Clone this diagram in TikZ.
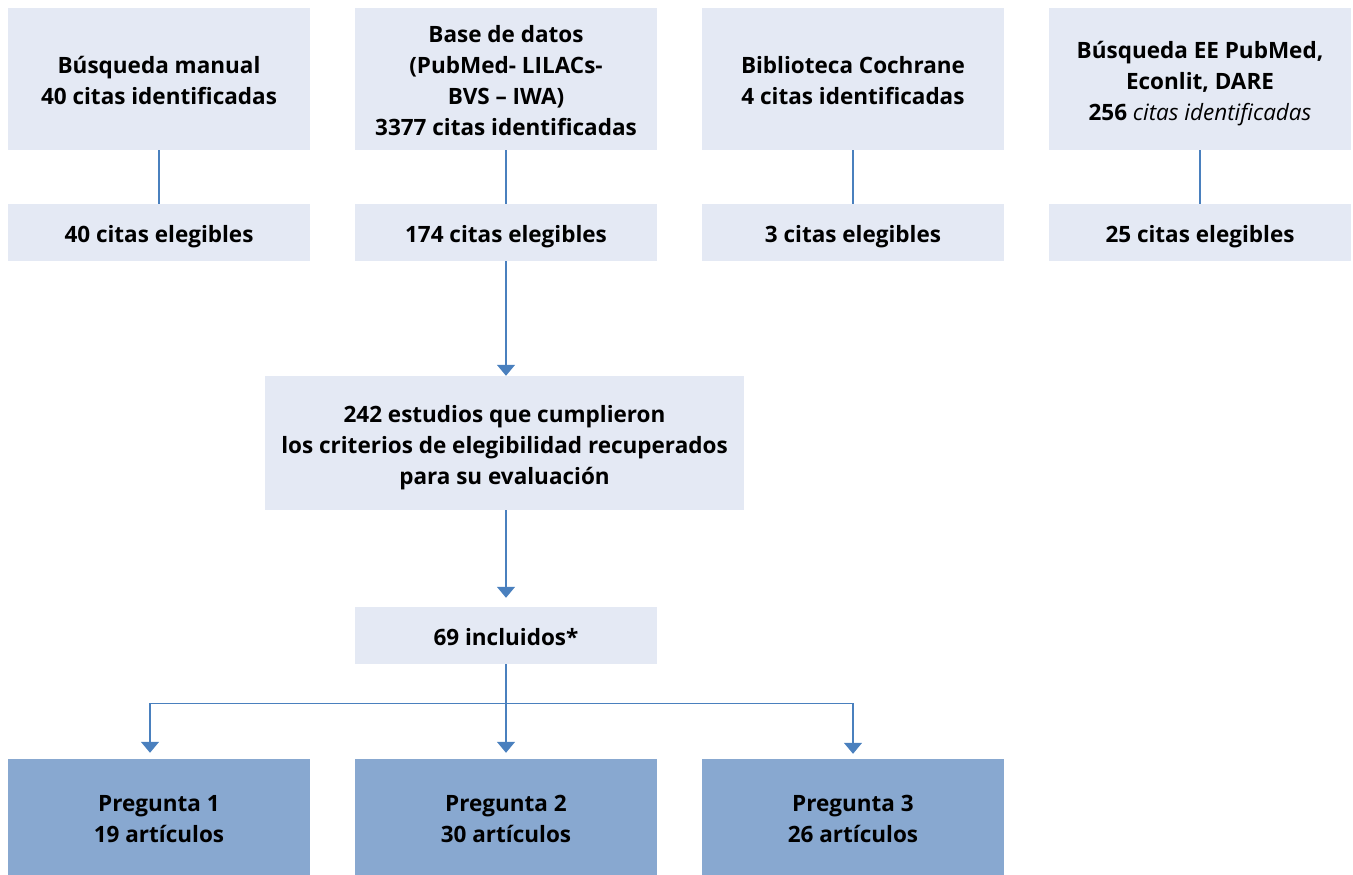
\documentclass[tikz,border=0pt]{standalone}
\usepackage{fontspec}
\setmainfont{Open Sans}
\usetikzlibrary{arrows.meta,calc}
\definecolor{boxlight}{HTML}{E4E9F4}
\definecolor{boxdark}{HTML}{88A8D0}
\definecolor{linec}{HTML}{4A80BE}
\newcommand{\lowtxt}[1]{\raisebox{-4pt}[\height][\depth]{\begin{tabular}{@{}c@{}}#1\end{tabular}}}
\tikzset{
  x=1pt,y=-1pt,
  box/.style={fill=boxlight,draw=none,align=center,font=\fontsize{22.5}{31}\selectfont\bfseries,inner sep=0pt,text=black},
  dbox/.style={box,fill=boxdark},
  conn/.style={draw=linec,line width=1.3pt},
  arr/.style={conn,-{Triangle[width=18pt,length=11pt]}}
}
\begin{document}
\begin{tikzpicture}
\useasboundingbox (0,0) rectangle (1353,875);
% top row
\node[box,minimum width=302pt,minimum height=142pt] (t1) at (159,79) {\lowtxt{Búsqueda manual\\40 citas identificadas}};
\node[box,minimum width=302pt,minimum height=142pt] (t2) at (506,79) {\lowtxt{Base de datos\\(PubMed- LILACs-\\BVS – IWA)\\3377 citas identificadas}};
\node[box,minimum width=302pt,minimum height=142pt] (t3) at (853,79) {\lowtxt{Biblioteca Cochrane\\4 citas identificadas}};
\node[box,minimum width=302pt,minimum height=142pt] (t4) at (1200,79) {\lowtxt{Búsqueda EE PubMed,\\Econlit, DARE\\256 {\mdseries\itshape citas identificadas}}};
% second row
\node[box,minimum width=302pt,minimum height=57pt] (e1) at (159,232.5) {\lowtxt{40 citas elegibles}};
\node[box,minimum width=302pt,minimum height=57pt] (e2) at (506,232.5) {\lowtxt{174 citas elegibles}};
\node[box,minimum width=302pt,minimum height=57pt] (e3) at (853,232.5) {\lowtxt{3 citas elegibles}};
\node[box,minimum width=302pt,minimum height=57pt] (e4) at (1200,232.5) {\lowtxt{25 citas elegibles}};
% middle
\node[box,minimum width=479pt,minimum height=134pt] (m) at (504.5,443) {\lowtxt{242 estudios que cumplieron\\los criterios de elegibilidad recuperados\\para su evaluación}};
\node[box,minimum width=302pt,minimum height=57pt] (inc) at (506,635.5) {\lowtxt{69 incluidos*}};
% bottom
\node[dbox,minimum width=302pt,minimum height=116pt] (p1) at (159,817) {\lowtxt{Pregunta 1\\19 artículos}};
\node[dbox,minimum width=302pt,minimum height=116pt] (p2) at (506,817) {\lowtxt{Pregunta 2\\30 artículos}};
\node[dbox,minimum width=302pt,minimum height=116pt] (p3) at (853,817) {\lowtxt{Pregunta 3\\26 artículos}};
% connectors
\draw[conn] (t1.south) -- (e1.north);
\draw[conn] (t2.south) -- (e2.north);
\draw[conn] (t3.south) -- (e3.north);
\draw[conn] (t4.south) -- (e4.north);
\draw[arr] (e2.south) -- (e2.south |- m.north);
\draw[arr,shorten >=9pt] (m.south -| inc.north) -- (inc.north);
\coordinate (br) at ($(inc.south)+(0,39)$);
\coordinate (p1t) at ($(p1.north)+(-9,0)$);
\draw[arr,shorten >=6pt] (inc.south) -- (p2.north);
\draw[arr,shorten >=6pt] (br) -| (p1t);
\draw[arr,shorten >=5pt] (br) -| (p3.north);
\end{tikzpicture}
\end{document}
